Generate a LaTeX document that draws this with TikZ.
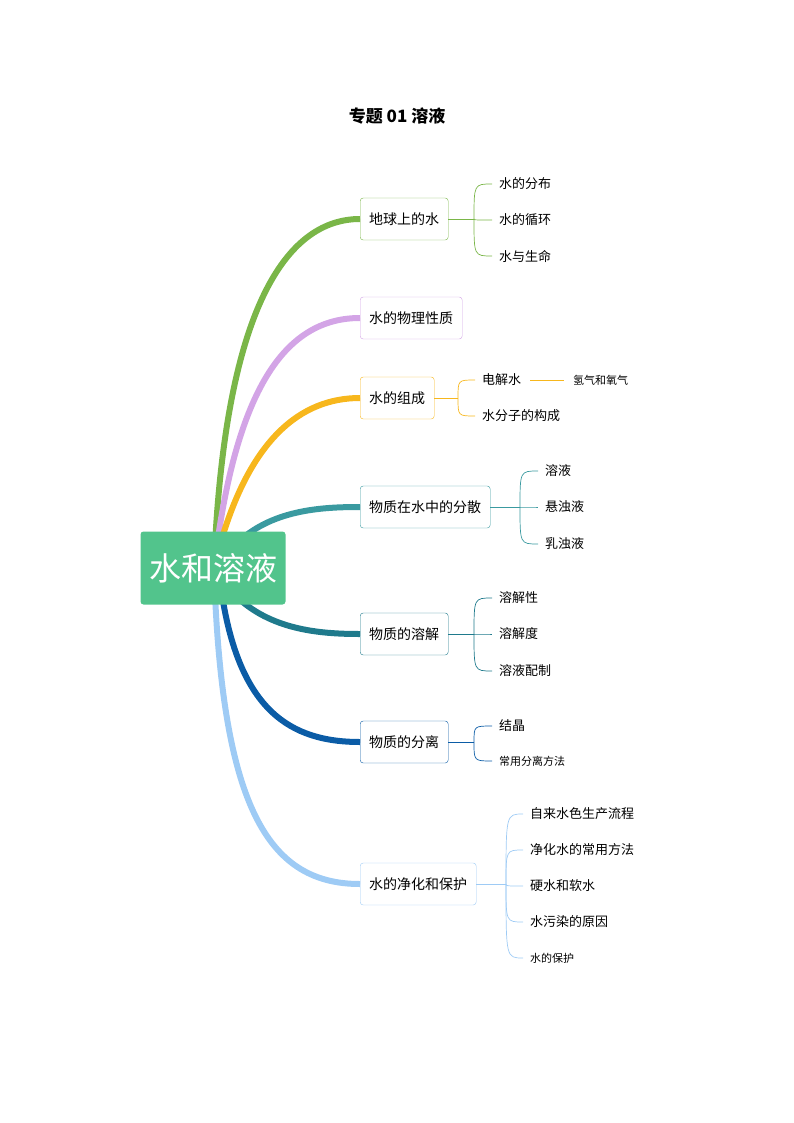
\documentclass[tikz,border=0pt]{standalone}
\usepackage{fontspec}
\setmainfont{Noto Sans CJK SC}
\begin{document}
\begin{tikzpicture}[x=1pt,y=-1pt,
  br/.style={draw=#1,rounded corners=3pt,fill=white,anchor=west,inner xsep=9pt,minimum height=42pt,font=\fontsize{14}{16}\selectfont},
  lf/.style={anchor=west,inner sep=1pt,font=\fontsize{13}{15}\selectfont},
  sl/.style={anchor=west,inner sep=1pt,font=\fontsize{11}{13}\selectfont},
  th/.style={line width=6pt,draw=#1},
  tn/.style={line width=0.7pt,draw=#1}]
\useasboundingbox (0,0) rectangle (793,1123);
\definecolor{cg}{HTML}{7AB648}\definecolor{cp}{HTML}{D3A4E6}\definecolor{co}{HTML}{F7B71D}
\definecolor{ct}{HTML}{3A9AA0}\definecolor{cd}{HTML}{1F7A8C}\definecolor{cb}{HTML}{0B5CA6}
\definecolor{cl}{HTML}{9ECBF5}\definecolor{root}{HTML}{52C48C}
\node[font=\bfseries\fontsize{17}{19}\selectfont] (title) at (397,116) {专题 01 溶液};
\node[br=cg] (b1) at (360,219) {地球上的水};
\node[br=cp] (b2) at (360,318) {水的物理性质};
\node[br=co] (b3) at (360,398) {水的组成};
\node[br=ct] (b4) at (360,507) {物质在水中的分散};
\node[br=cd] (b5) at (360,634) {物质的溶解};
\node[br=cb] (b6) at (360,742) {物质的分离};
\node[br=cl] (b7) at (360,884) {水的净化和保护};
\draw[th=cg] (215,545) .. controls (228,300) and (290,219) .. (b1.west);
\draw[th=cp] (217,545) .. controls (240,380) and (290,318) .. (b2.west);
\draw[th=co] (220,545) .. controls (250,440) and (300,398) .. (b3.west);
\draw[th=ct] (235,545) .. controls (270,510) and (320,507) .. (b4.west);
\draw[th=cd] (235,595) .. controls (270,630) and (320,634) .. (b5.west);
\draw[th=cb] (222,595) .. controls (240,710) and (290,742) .. (b6.west);
\draw[th=cl] (215,595) .. controls (225,810) and (270,884) .. (b7.west);
\node[fill=root,rounded corners=3pt,minimum width=145pt,minimum height=73pt,text=white,font=\fontsize{32}{34}\selectfont] (r) at (213,568) {水和溶液};
% children
\node[lf] (c11) at (498,184) {水的分布};
\node[lf] (c12) at (498,220) {水的循环};
\node[lf] (c13) at (498,256) {水与生命};
\node[lf] (c31) at (481,380) {电解水};
\node[lf] (c32) at (481,416) {水分子的构成};
\node[sl] (c311) at (572,380) {氢气和氧气};
\node[lf] (c41) at (544,471) {溶液};
\node[lf] (c42) at (544,507) {悬浊液};
\node[lf] (c43) at (544,544) {乳浊液};
\node[lf] (c51) at (498,598) {溶解性};
\node[lf] (c52) at (498,634) {溶解度};
\node[lf] (c53) at (498,671) {溶液配制};
\node[lf] (c61) at (498,726) {结晶};
\node[sl] (c62) at (498,761) {常用分离方法};
\node[lf] (c71) at (529,814) {自来水色生产流程};
\node[lf] (c72) at (529,850) {净化水的常用方法};
\node[lf] (c73) at (529,886) {硬水和软水};
\node[lf] (c74) at (529,922) {水污染的原因};
\node[sl] (c75) at (529,958) {水的保护};
\coordinate (j1) at (474,219);\coordinate (j3) at (458,398);\coordinate (j4) at (520,507);
\coordinate (j5) at (474,634);\coordinate (j6) at (474,742);\coordinate (j7) at (506,884);
\draw[tn=cg] (b1.east) -- (j1);
\foreach \c in {c11,c12,c13}{\draw[tn=cg] (j1) .. controls (j1 |- \c.west) .. ([xshift=-6pt]\c.west);}
\draw[tn=co] (b3.east) -- (j3);
\foreach \c in {c31,c32}{\draw[tn=co] (j3) .. controls (j3 |- \c.west) .. ([xshift=-6pt]\c.west);}
\draw[tn=co] ([xshift=8pt]c31.east) -- ([xshift=-8pt]c311.west);
\draw[tn=ct] (b4.east) -- (j4);
\foreach \c in {c41,c42,c43}{\draw[tn=ct] (j4) .. controls (j4 |- \c.west) .. ([xshift=-6pt]\c.west);}
\draw[tn=cd] (b5.east) -- (j5);
\foreach \c in {c51,c52,c53}{\draw[tn=cd] (j5) .. controls (j5 |- \c.west) .. ([xshift=-6pt]\c.west);}
\draw[tn=cb] (b6.east) -- (j6);
\foreach \c in {c61,c62}{\draw[tn=cb] (j6) .. controls (j6 |- \c.west) .. ([xshift=-6pt]\c.west);}
\draw[tn=cl] (b7.east) -- (j7);
\foreach \c in {c71,c72,c73,c74,c75}{\draw[tn=cl] (j7) .. controls (j7 |- \c.west) .. ([xshift=-6pt]\c.west);}
\end{tikzpicture}
\end{document}
